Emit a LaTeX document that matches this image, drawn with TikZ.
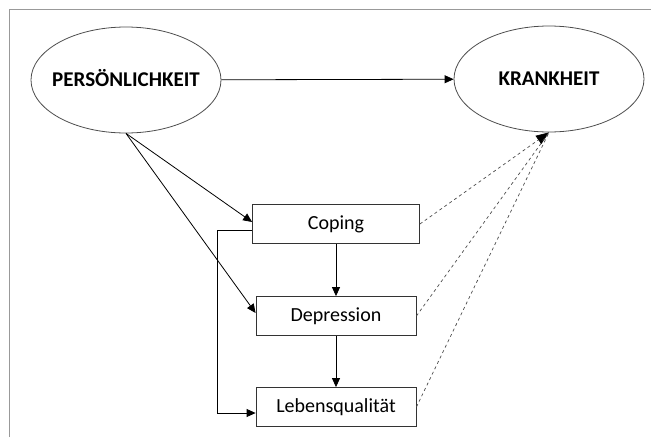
\documentclass[tikz,border=0pt]{standalone}
\usepackage{fontspec}
\setmainfont{Carlito}
\usetikzlibrary{arrows.meta,positioning,shapes.geometric}

\begin{document}
\begin{tikzpicture}[
    x=1pt, y=-1pt,
    >={Triangle[length=9pt,width=8pt]},
    line width=0.8pt,
    construct/.style={
        draw=black!70,
        ellipse,
        inner sep=0pt,
        minimum width=190pt,
        minimum height=106pt,
        text height=13.5pt,
        text depth=0pt,
        font=\fontsize{21}{24}\selectfont\bfseries
    },
    factor/.style={
        draw=black!80,
        minimum width=160pt,
        minimum height=39pt,
        font=\fontsize{20}{24}\selectfont
    },
    effect/.style={dashed, draw=black!70, line width=0.7pt}
]

\useasboundingbox (0,0) rectangle (651,437);
\draw[black!40] (9,437) -- (9,9) -- (651,9);

\node[construct] (pers) at (126,80) {\makebox[0pt]{PERSÖNLICHKEIT}};
\node[construct] (krank) at (549,79) {\makebox[0pt]{KRANKHEIT}};

\node[factor, minimum width=167pt] (coping) at (336,224) {Coping};
\node[factor] (depr) at (336,316) {Depression};
\node[factor] (leben) at (336,407) {Lebensqualität};

\draw[->] (pers) -- (krank);
\draw[->] (pers.south) -- ([yshift=2pt]coping.west);
\draw[->] (pers.south) -- ([yshift=3pt]depr.west);

\draw[->] (coping) -- (depr);
\draw[->] (depr) -- (leben);
\draw[->] ([yshift=-6pt]coping.west) -- ++(-35,0) |- ([yshift=-6pt]leben.west);

\draw[effect, -{Triangle[length=13pt,width=10pt,color=black]}] (coping.east) -- (krank.south);
\draw[effect] (depr.east) -- (krank.south);
\draw[effect] (leben.east) -- (krank.south);

\end{tikzpicture}
\end{document}
